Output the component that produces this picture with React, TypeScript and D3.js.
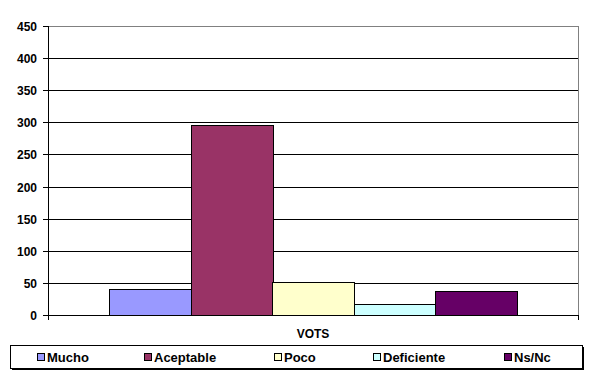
import React from "react";
import * as d3 from "d3";

const categories = ["VOTS"];
const seriesNames = ["Mucho", "Aceptable", "Poco", "Deficiente", "Ns/Nc"];
const seriesValues = [40, 296, 52, 17, 37];
const seriesColors = ["#9999FF", "#993366", "#FFFFCC", "#CCFFFF", "#660066"];
const yTicks = [0, 50, 100, 150, 200, 250, 300, 350, 400, 450];
const legendX = [38, 145, 275, 374, 505];

export default function App() {
  const W = 593, H = 384;
  const left = 48, right = 578, top = 26, bottom = 315;
  const y = d3.scaleLinear().domain([0, 450]).range([bottom, top]);
  const x0 = d3.scaleBand().domain(categories).range([left, right]).paddingInner(0).paddingOuter(0.1495);
  const x1 = d3.scaleBand().domain(seriesNames).range([0, x0.bandwidth()]).padding(0);
  const font = "Arial, 'Liberation Sans', sans-serif";
  return (
    <svg width={W} height={H} style={{ position: "absolute", left: 0, top: 0, background: "#fff" }} fontFamily={font}>
      {yTicks.map((t) => (
        <g key={t}>
          {t > 0 && t < 450 && <line x1={left} x2={right} y1={Math.round(y(t)) + 0.5} y2={Math.round(y(t)) + 0.5} stroke="#000" />}
          <line x1={left - 5} x2={left} y1={Math.round(y(t)) + 0.5} y2={Math.round(y(t)) + 0.5} stroke="#000" />
          <text x={37} y={Math.round(y(t)) + 4.5} textAnchor="end" fontSize={12} fontWeight="bold">{t}</text>
        </g>
      ))}
      <line x1={left} x2={right} y1={top + 0.5} y2={top + 0.5} stroke="#808080" />
      <line x1={right + 0.5} x2={right + 0.5} y1={top} y2={bottom} stroke="#808080" />
      {categories.map((c) =>
        seriesNames.map((s, i) => (
          <rect key={s}
            x={Math.round(x0(c)! + x1(s)!) + 0.5}
            y={Math.round(y(seriesValues[i])) + 0.5}
            width={Math.round(x1.bandwidth())}
            height={Math.round(bottom - y(seriesValues[i]))}
            fill={seriesColors[i]} stroke="#000" strokeWidth={1} />
        ))
      )}
      <line x1={left + 0.5} x2={left + 0.5} y1={top} y2={bottom + 5} stroke="#000" />
      <line x1={left} x2={right} y1={bottom + 0.5} y2={bottom + 0.5} stroke="#000" />
      <line x1={right + 0.5} x2={right + 0.5} y1={bottom} y2={bottom + 5} stroke="#000" />
      {categories.map((c) => (
        <text key={c} x={x0(c)! + x0.bandwidth() / 2} y={338} textAnchor="middle" fontSize={12} fontWeight="bold">{c}</text>
      ))}
      <rect x={12} y={347} width={572} height={23} fill="#000" />
      <rect x={10.5} y={345.5} width={572} height={23} fill="#fff" stroke="#000" />
      {seriesNames.map((s, i) => (
        <g key={s}>
          <rect x={legendX[i] - 0.5} y={353.5} width={7} height={7} fill={seriesColors[i]} stroke="#000" />
          <text x={legendX[i] + 9} y={362} fontSize={13} fontWeight="bold">{s}</text>
        </g>
      ))}
    </svg>
  );
}
